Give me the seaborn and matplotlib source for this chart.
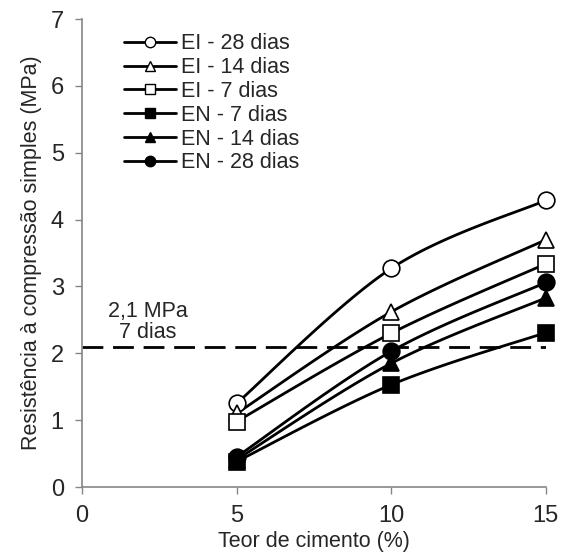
import numpy as np
import pandas as pd
import matplotlib
matplotlib.use("Agg")
import matplotlib.pyplot as plt
import seaborn as sns
from matplotlib.lines import Line2D

cimento = [5, 10, 15]
series_names = ["EI - 28 dias", "EI - 14 dias", "EI - 7 dias", "EN - 7 dias", "EN - 14 dias", "EN - 28 dias"]
ei_28 = [1.25, 3.27, 4.29]
ei_14 = [1.10, 2.62, 3.70]
ei_7 = [0.98, 2.30, 3.34]
en_7 = [0.38, 1.53, 2.31]
en_14 = [0.41, 1.85, 2.83]
en_28 = [0.45, 2.03, 3.06]
values = [ei_28, ei_14, ei_7, en_7, en_14, en_28]
markers = ["o", "^", "s", "s", "^", "o"]
filled = [False, False, False, True, True, True]
limite = 2.1
limite_texto = "2,1 MPa\n7 dias"

sns.set_style("white")
plt.rcParams['font.family'] = ['Liberation Sans', 'DejaVu Sans']

def smooth(x, y, n=40):
    # Catmull-Rom spline through data points (Excel-like smoothed line)
    x = np.asarray(x, float); y = np.asarray(y, float)
    P = np.column_stack([x, y])
    P = np.vstack([P[0], P, P[-1]])
    out = []
    for i in range(1, len(P) - 2):
        p0, p1, p2, p3 = P[i - 1], P[i], P[i + 1], P[i + 2]
        t = np.linspace(0, 1, n)[:, None]
        seg = 0.5 * ((2 * p1) + (-p0 + p2) * t + (2 * p0 - 5 * p1 + 4 * p2 - p3) * t ** 2
                     + (-p0 + 3 * p1 - 3 * p2 + p3) * t ** 3)
        out.append(seg if i == 1 else seg[1:])
    out = np.vstack(out)
    return out[:, 0], out[:, 1]

fig = plt.figure(figsize=(5.61, 5.55), dpi=100)
ax = fig.add_axes([0.146, 0.1225, 0.827, 0.843])

handles = []
for name, vals, m, f in zip(series_names, values, markers, filled):
    sx, sy = smooth(cimento, vals)
    df = pd.DataFrame({"x": sx, "y": sy})
    sns.lineplot(data=df, x="x", y="y", ax=ax, color="black", lw=2.0, sort=False, zorder=2)
    fc = "black" if f else "white"
    ax.plot(cimento, vals, linestyle="none", marker=m, markersize=12 if m != "s" else 11,
            markerfacecolor=fc, markeredgecolor="black", markeredgewidth=1.2, zorder=3,
            clip_on=False)
    handles.append(Line2D([0], [0], color="black", lw=2.0, marker=m, markersize=7.5,
                          markerfacecolor=fc, markeredgecolor="black", markeredgewidth=1.0, label=name))

ax.plot([0, 15], [limite, limite], color="black", lw=2.0, dashes=(7.5, 3.5), zorder=1)
ax.text(2.13, 2.47, limite_texto, ha="center", va="center", fontsize=15.5, linespacing=1.0)

ax.set_xlim(0, 15)
ax.set_ylim(0, 7)
ax.set_xticks([0, 5, 10, 15])
ax.set_yticks(range(0, 8))
ax.set_xlabel("Teor de cimento (%)", fontsize=15.5, labelpad=3)
ax.set_ylabel("Resistência à compressão simples (MPa)", fontsize=15.5, labelpad=6)
ax.tick_params(axis="both", labelsize=17, direction="out", length=5, width=1, color="#868686",
               bottom=True, left=True, pad=8)
for s in ["top", "right"]:
    ax.spines[s].set_visible(False)
for s in ["left", "bottom"]:
    ax.spines[s].set_color("#868686")
    ax.spines[s].set_linewidth(1.2)

leg = ax.legend(handles=handles, loc="upper left", bbox_to_anchor=(0.073, 0.988), frameon=False,
                fontsize=15.5, handlelength=2.4, handletextpad=0.25, labelspacing=0.13, borderaxespad=0)

fig.savefig("out.png", dpi=100)
